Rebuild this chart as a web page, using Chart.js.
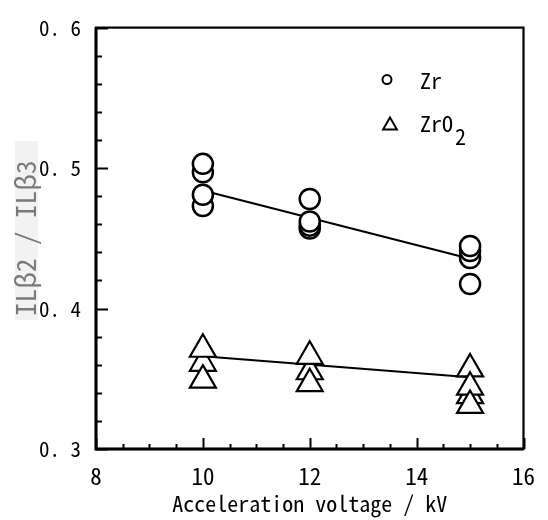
<!DOCTYPE html>
<html>
<head>
<meta charset="utf-8">
<script src="https://cdn.jsdelivr.net/npm/chart.js@4/dist/chart.umd.min.js"></script>
<style>
html,body{margin:0;padding:0;background:#fff;}
canvas{display:block;}
</style>
</head>
<body>
<canvas id="c" width="548" height="520"></canvas>
<script>
// ---- data ----
const zrX   = [10, 10, 10, 10, 12, 12, 12, 12, 15, 15, 15, 15];
const zrY   = [0.473, 0.481, 0.497, 0.503, 0.457, 0.459, 0.462, 0.478, 0.4175, 0.436, 0.441, 0.4445];
const zro2X = [10, 10, 10, 12, 12, 12, 15, 15, 15, 15];
const zro2Y = [0.361, 0.371, 0.349, 0.355, 0.366, 0.3465, 0.338, 0.357, 0.344, 0.331];
const fitX      = [10, 15];
const zrFitY    = [0.484, 0.4355];
const zro2FitY  = [0.366, 0.351];
const xTicks = [8, 10, 12, 14, 16];
const xTickLabels = ['8', '10', '12', '14', '16'];
const yTicks = [0.3, 0.4, 0.5, 0.6];
const yTickLabels = ['0. 3', '0. 4', '0. 5', '0. 6'];
const seriesLabels = ['Zr', 'ZrO2'];
const xTitle = 'Acceleration voltage / kV';
const yTitle = 'ILβ2 / ILβ3';

const FONT = '"Noto Sans Mono CJK JP", "DejaVu Sans Mono", monospace';

const toPts = (xs, ys) => xs.map((x, i) => ({x: x, y: ys[i]}));

const framePlugin = {
  id: 'frame',
  beforeDraw(chart) {
    const ctx = chart.ctx;
    ctx.save();
    ctx.fillStyle = '#f2f2f2';
    ctx.fillRect(15, 141, 23, 179);
    ctx.restore();
  },
  afterDraw(chart) {
    const ctx = chart.ctx;
    const a = chart.chartArea;
    const xs = chart.scales.x, ys = chart.scales.y;
    ctx.save();
    ctx.strokeStyle = '#000';
    ctx.lineWidth = 2.2;
    ctx.strokeRect(a.left, a.top, a.right - a.left, a.bottom - a.top);
    ctx.lineWidth = 3;
    ctx.beginPath();
    ctx.moveTo(a.left, a.top);
    ctx.lineTo(a.left, a.bottom);
    ctx.lineTo(a.right, a.bottom);
    ctx.stroke();
    ctx.lineWidth = 2;
    for (let v = ys.min; v <= ys.max + 1e-9; v += 0.02) {
      const p = Math.round(ys.getPixelForValue(v)) + 0.5;
      const major = Math.abs(v * 10 - Math.round(v * 10)) < 1e-6;
      ctx.beginPath();
      ctx.moveTo(a.left, p);
      ctx.lineTo(a.left + (major ? 12 : 6), p);
      ctx.stroke();
    }
    for (let v = xs.min; v <= xs.max + 1e-9; v += 0.5) {
      const p = Math.round(xs.getPixelForValue(v)) + 0.5;
      const major = Math.abs(v / 2 - Math.round(v / 2)) < 1e-6;
      ctx.beginPath();
      ctx.moveTo(p, a.bottom);
      ctx.lineTo(p, a.bottom - (major ? 11 : 5));
      ctx.stroke();
    }
    // legend
    const lx = a.left + 291, ly1 = a.top + 52, ly2 = a.top + 98;
    ctx.fillStyle = '#fff';
    ctx.strokeStyle = '#000';
    ctx.lineWidth = 2;
    Chart.helpers.drawPoint(ctx, {pointStyle: 'circle', radius: 4.5, borderWidth: 2}, lx, ly1);
    Chart.helpers.drawPoint(ctx, {pointStyle: 'triangle', radius: 8, borderWidth: 2}, lx + 3, ly2);
    ctx.fillStyle = '#000';
    ctx.font = '22px ' + FONT;
    ctx.textBaseline = 'middle';
    ctx.textAlign = 'left';
    const tx = a.left + 324;
    ctx.fillText(seriesLabels[0], tx, ly1 + 1);
    const main = seriesLabels[1].slice(0, -1), sub = seriesLabels[1].slice(-1);
    ctx.fillText(main, tx, ly2 - 2);
    ctx.fillText(sub, tx + ctx.measureText(main).width + 2, ly2 + 11);
    ctx.restore();
  }
};

new Chart(document.getElementById('c'), {
  type: 'scatter',
  data: {
    datasets: [
      {label: seriesLabels[0], data: toPts(zrX, zrY), pointStyle: 'circle', pointRadius: 10,
       borderColor: '#000', backgroundColor: '#fff', borderWidth: 2.5, order: 1},
      {label: seriesLabels[1], data: toPts(zro2X, zro2Y), pointStyle: 'triangle', pointRadius: 15,
       borderColor: '#000', backgroundColor: '#fff', borderWidth: 2.2, order: 1},
      {type: 'line', label: 'fitZr', data: toPts(fitX, zrFitY), borderColor: '#000', borderWidth: 2,
       pointRadius: 0, fill: false, order: 2},
      {type: 'line', label: 'fitZrO2', data: toPts(fitX, zro2FitY), borderColor: '#000', borderWidth: 2,
       pointRadius: 0, fill: false, order: 2}
    ]
  },
  options: {
    responsive: false,
    animation: false,
    layout: {padding: {left: 0, top: 15, right: 21, bottom: 0}},
    plugins: {legend: {display: false}, tooltip: {enabled: false}},
    scales: {
      x: {
        type: 'linear', min: 8, max: 16,
        grid: {display: false, drawTicks: false},
        border: {display: false},
        afterBuildTicks: s => { s.ticks = xTicks.map(v => ({value: v})); },
        afterFit: s => { s.height = 71; },
        ticks: {color: '#000', padding: 13, font: {family: FONT, size: 23},
                callback: (v, i) => xTickLabels[i]},
        title: {display: true, text: xTitle, color: '#000', font: {family: FONT, size: 22},
                padding: {top: 0, bottom: 3}}
      },
      y: {
        type: 'linear', min: 0.3, max: 0.6,
        grid: {display: false, drawTicks: false},
        border: {display: false},
        afterBuildTicks: s => { s.ticks = yTicks.map(v => ({value: v})); },
        afterFit: s => { s.width = 96; },
        ticks: {color: '#000', padding: 15, font: {family: FONT, size: 21},
                callback: (v, i) => yTickLabels[i]},
        title: {display: true, text: yTitle, color: '#7a7a7a', font: {family: FONT, size: 27},
                padding: {top: 10, bottom: 0}}
      }
    }
  },
  plugins: [framePlugin]
});
</script>
</body>
</html>
